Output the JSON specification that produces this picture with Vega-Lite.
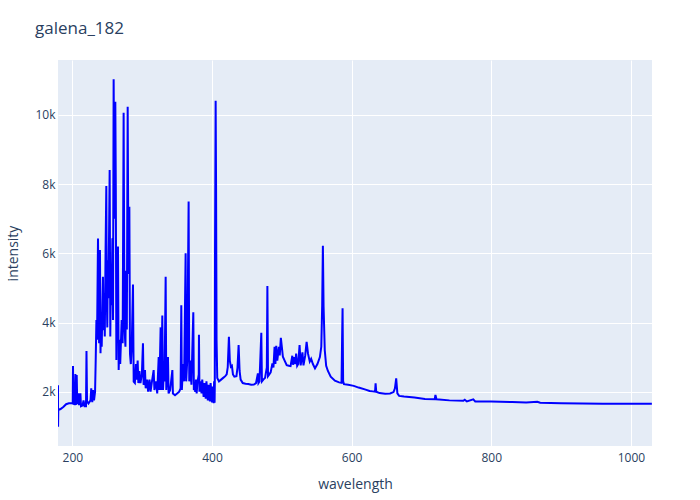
{
  "$schema": "https://vega.github.io/schema/vega-lite/v6.json",
  "width": 594,
  "height": 386,
  "autosize": {"type": "none"},
  "padding": {"left": 58, "top": 60, "right": 48, "bottom": 54},
  "background": "white",
  "title": {"text": "galena_182", "anchor": "start", "frame": "group", "dx": -23, "offset": 22, "fontSize": 17, "font": "Open Sans", "color": "#2a3f5f", "fontWeight": "normal"},
  "config": {
    "view": {"fill": "#E5ECF6", "stroke": null},
    "axis": {"domain": false, "ticks": false, "tickSize": 0, "gridColor": "white", "gridWidth": 1, "labelFont": "Open Sans", "labelFontSize": 12, "labelColor": "#2a3f5f", "titleFont": "Open Sans", "titleFontSize": 14, "titleColor": "#2a3f5f", "titleFontWeight": "normal"}
  },
  "data": {"values": [
    {"w":179.4,"v":2190,"s":1},{"w":179.5,"v":989,"s":1},{"w":179.8,"v":1471,"s":1},{"w":183,"v":1500,"s":1},{"w":187,"v":1560,"s":1},{"w":191,"v":1640,"s":1},{"w":195,"v":1665,"s":1},{"w":199,"v":1665,"s":1},{"w":200.5,"v":1660,"s":1},{"w":200.9,"v":2743,"s":1},{"w":201.3,"v":1650,"s":1},{"w":203,"v":1640,"s":1},{"w":204.3,"v":2511,"s":1},{"w":205,"v":1620,"s":1},{"w":206.2,"v":2480,"s":1},{"w":207,"v":1640,"s":1},{"w":208.5,"v":1954,"s":1},{"w":209.5,"v":1610,"s":1},{"w":211.5,"v":1954,"s":1},{"w":212.3,"v":1580,"s":1},{"w":214.5,"v":1600,"s":1},{"w":216,"v":1750,"s":1},{"w":217.5,"v":1580,"s":1},{"w":219.5,"v":1580,"s":1},{"w":220.2,"v":3176,"s":1},{"w":221,"v":1720,"s":1},{"w":223,"v":1660,"s":1},{"w":226,"v":1750,"s":1},{"w":227,"v":2100,"s":1},{"w":228.5,"v":1700,"s":1},{"w":229.5,"v":2050,"s":1},{"w":231,"v":1750,"s":1},{"w":232.5,"v":2000,"s":1},{"w":233.4,"v":2900,"s":1},{"w":234.4,"v":4070,"s":1},{"w":235.3,"v":3500,"s":1},{"w":236.7,"v":6433,"s":1},{"w":237.5,"v":4300,"s":1},{"w":238.3,"v":3400,"s":1},{"w":239.5,"v":6095,"s":1},{"w":240.3,"v":3110,"s":1},{"w":241.2,"v":4300,"s":1},{"w":242,"v":3300,"s":1},{"w":243.8,"v":5324,"s":1},{"w":244.6,"v":3780,"s":1},{"w":245.5,"v":4844,"s":1},{"w":246.4,"v":3600,"s":1},{"w":247.5,"v":6000,"s":1},{"w":248.6,"v":7945,"s":1},{"w":249.2,"v":4844,"s":1},{"w":250,"v":3860,"s":1},{"w":250.8,"v":5800,"s":1},{"w":251.5,"v":4700,"s":1},{"w":252.5,"v":6500,"s":1},{"w":253.4,"v":8407,"s":1},{"w":254.3,"v":3600,"s":1},{"w":255.2,"v":5500,"s":1},{"w":256,"v":4500,"s":1},{"w":257.3,"v":6433,"s":1},{"w":258.2,"v":4072,"s":1},{"w":259.1,"v":11030,"s":1},{"w":260.2,"v":7000,"s":1},{"w":261.5,"v":10381,"s":1},{"w":262.2,"v":7900,"s":1},{"w":263,"v":2916,"s":1},{"w":263.8,"v":5000,"s":1},{"w":265.3,"v":6200,"s":1},{"w":266.3,"v":2627,"s":1},{"w":267.5,"v":3500,"s":1},{"w":268.5,"v":2800,"s":1},{"w":270.6,"v":4070,"s":1},{"w":272,"v":3400,"s":1},{"w":273.4,"v":10063,"s":1},{"w":274.6,"v":3880,"s":1},{"w":276,"v":3300,"s":1},{"w":277,"v":5500,"s":1},{"w":278,"v":3800,"s":1},{"w":279.2,"v":10237,"s":1},{"w":280.3,"v":5400,"s":1},{"w":281.6,"v":7347,"s":1},{"w":282.5,"v":3100,"s":1},{"w":283.7,"v":2800,"s":1},{"w":285,"v":3300,"s":1},{"w":286.8,"v":5100,"s":1},{"w":287.8,"v":2290,"s":1},{"w":289.5,"v":2250,"s":1},{"w":291,"v":2800,"s":1},{"w":292,"v":2350,"s":1},{"w":293.5,"v":2900,"s":1},{"w":294.5,"v":2250,"s":1},{"w":296,"v":2600,"s":1},{"w":297.5,"v":2250,"s":1},{"w":299.5,"v":2500,"s":1},{"w":301.1,"v":3400,"s":1},{"w":302,"v":2200,"s":1},{"w":303.5,"v":2290,"s":1},{"w":304,"v":2627,"s":1},{"w":305,"v":2100,"s":1},{"w":307,"v":2350,"s":1},{"w":308.5,"v":2000,"s":1},{"w":310.5,"v":2350,"s":1},{"w":312,"v":2000,"s":1},{"w":314,"v":2300,"s":1},{"w":316.4,"v":2627,"s":1},{"w":317.5,"v":2050,"s":1},{"w":320,"v":2300,"s":1},{"w":321.5,"v":1950,"s":1},{"w":323.6,"v":3000,"s":1},{"w":324.5,"v":2050,"s":1},{"w":326.4,"v":3860,"s":1},{"w":327.3,"v":2050,"s":1},{"w":328.8,"v":4200,"s":1},{"w":329.8,"v":2050,"s":1},{"w":331,"v":2600,"s":1},{"w":332,"v":2300,"s":1},{"w":333.6,"v":5324,"s":1},{"w":334.5,"v":2050,"s":1},{"w":336.9,"v":3000,"s":1},{"w":337.8,"v":1950,"s":1},{"w":340,"v":2050,"s":1},{"w":343.2,"v":2627,"s":1},{"w":344,"v":1950,"s":1},{"w":347,"v":1900,"s":1},{"w":350,"v":1950,"s":1},{"w":353,"v":2000,"s":1},{"w":355,"v":2100,"s":1},{"w":356,"v":4500,"s":1},{"w":356.8,"v":2050,"s":1},{"w":358.5,"v":2800,"s":1},{"w":360,"v":2300,"s":1},{"w":362.2,"v":6000,"s":1},{"w":363,"v":2300,"s":1},{"w":364.5,"v":2900,"s":1},{"w":366.5,"v":7500,"s":1},{"w":367.4,"v":2300,"s":1},{"w":369,"v":2900,"s":1},{"w":370.5,"v":2200,"s":1},{"w":373.2,"v":4300,"s":1},{"w":374,"v":2050,"s":1},{"w":376,"v":2000,"s":1},{"w":378,"v":1950,"s":1},{"w":381.3,"v":3650,"s":1},{"w":382,"v":2000,"s":1},{"w":385,"v":1950,"s":1},{"w":388,"v":1850,"s":1},{"w":391,"v":1800,"s":1},{"w":394,"v":1750,"s":1},{"w":397,"v":1720,"s":1},{"w":400,"v":1690,"s":1},{"w":402.3,"v":1665,"s":1},{"w":403.7,"v":1680,"s":1},{"w":404,"v":2200,"s":1},
    {"w":375.1,"v":2100,"s":2},{"w":377,"v":2350,"s":2},{"w":379,"v":2250,"s":2},{"w":381,"v":2500,"s":2},{"w":383,"v":2300,"s":2},{"w":386,"v":2350,"s":2},{"w":389,"v":2250,"s":2},{"w":392,"v":2300,"s":2},{"w":395,"v":2200,"s":2},{"w":398,"v":2250,"s":2},{"w":401,"v":2150,"s":2},{"w":403,"v":2300,"s":2},{"w":404.3,"v":6000,"s":2},{"w":405.2,"v":10410,"s":2},{"w":405.8,"v":8000,"s":2},{"w":406.5,"v":3500,"s":2},{"w":407.5,"v":2400,"s":2},{"w":410,"v":2300,"s":2},{"w":413,"v":2350,"s":2},{"w":416,"v":2400,"s":2},{"w":419,"v":2450,"s":2},{"w":421,"v":2500,"s":2},{"w":422.5,"v":2700,"s":2},{"w":424.2,"v":3590,"s":2},{"w":425.5,"v":2900,"s":2},{"w":427,"v":2722,"s":2},{"w":428.5,"v":2750,"s":2},{"w":430,"v":2500,"s":2},{"w":432,"v":2434,"s":2},{"w":435,"v":2450,"s":2},{"w":436.5,"v":2700,"s":2},{"w":438.1,"v":3350,"s":2},{"w":439.5,"v":2600,"s":2},{"w":441,"v":2350,"s":2},{"w":444,"v":2250,"s":2},{"w":448,"v":2230,"s":2},{"w":452,"v":2222,"s":2},{"w":456,"v":2200,"s":2},{"w":460,"v":2210,"s":2},{"w":463,"v":2250,"s":2},{"w":465.7,"v":2530,"s":2},{"w":466.5,"v":2250,"s":2},{"w":468,"v":2300,"s":2},{"w":470.6,"v":3705,"s":2},{"w":471.5,"v":2300,"s":2},{"w":473.5,"v":2350,"s":2},{"w":476,"v":2400,"s":2},{"w":478.5,"v":2700,"s":2},{"w":479.3,"v":5055,"s":2},{"w":480.2,"v":2450,"s":2},{"w":482,"v":2500,"s":2},{"w":484,"v":2560,"s":2},{"w":486.5,"v":2820,"s":2},{"w":488,"v":2700,"s":2},{"w":489.6,"v":3300,"s":2},{"w":490.8,"v":2800,"s":2},{"w":492,"v":3330,"s":2},{"w":493.5,"v":2900,"s":2},{"w":495.8,"v":3300,"s":2},{"w":497,"v":3050,"s":2},{"w":498.6,"v":3560,"s":2},{"w":500,"v":3300,"s":2},{"w":501.5,"v":3010,"s":2},{"w":504,"v":2900,"s":2},{"w":507,"v":2770,"s":2},{"w":510,"v":2750,"s":2},{"w":512.5,"v":2740,"s":2},{"w":515,"v":3040,"s":2},{"w":516,"v":2780,"s":2},{"w":517.5,"v":3000,"s":2},{"w":519,"v":2800,"s":2},{"w":520.5,"v":3100,"s":2},{"w":522,"v":2750,"s":2},{"w":523.5,"v":2800,"s":2},{"w":525.4,"v":3350,"s":2},{"w":527,"v":2760,"s":2},{"w":529.5,"v":3140,"s":2},{"w":531,"v":2760,"s":2},{"w":533.5,"v":3050,"s":2},{"w":535.5,"v":3445,"s":2},{"w":537.5,"v":3100,"s":2},{"w":540,"v":2870,"s":2},{"w":542,"v":2950,"s":2},{"w":544.5,"v":2800,"s":2},{"w":547.5,"v":2676,"s":2},{"w":551,"v":2800,"s":2},{"w":554.5,"v":3000,"s":2},{"w":556.5,"v":3300,"s":2},{"w":557.8,"v":4500,"s":2},{"w":558.8,"v":6220,"s":2},{"w":559.8,"v":4457,"s":2},{"w":561.5,"v":3200,"s":2},{"w":563.5,"v":2750,"s":2},{"w":566,"v":2600,"s":2},{"w":570,"v":2434,"s":2},{"w":576,"v":2320,"s":2},{"w":582,"v":2270,"s":2},{"w":585.5,"v":2260,"s":2},{"w":586.3,"v":3500,"s":2},{"w":587,"v":4410,"s":2},{"w":587.8,"v":2300,"s":2},{"w":589,"v":2220,"s":2},{"w":595,"v":2200,"s":2},{"w":603,"v":2170,"s":2},{"w":610,"v":2120,"s":2},{"w":620,"v":2060,"s":2},{"w":625.7,"v":2020,"s":2},{"w":630,"v":2010,"s":2},{"w":633.5,"v":2000,"s":2},{"w":634.3,"v":2243,"s":2},{"w":635.2,"v":2000,"s":2},{"w":640,"v":1960,"s":2},{"w":648,"v":1943,"s":2},{"w":655,"v":1950,"s":2},{"w":660,"v":1990,"s":2},{"w":662,"v":2098,"s":2},{"w":663.8,"v":2387,"s":2},{"w":665.5,"v":1950,"s":2},{"w":668,"v":1880,"s":2},{"w":675,"v":1860,"s":2},{"w":690,"v":1830,"s":2},{"w":705,"v":1790,"s":2},{"w":719,"v":1780,"s":2},{"w":720,"v":1905,"s":2},{"w":721.5,"v":1780,"s":2},{"w":740,"v":1750,"s":2},{"w":760,"v":1740,"s":2},{"w":762,"v":1770,"s":2},{"w":765,"v":1720,"s":2},{"w":774.2,"v":1780,"s":2},{"w":777,"v":1720,"s":2},{"w":800,"v":1718,"s":2},{"w":830,"v":1700,"s":2},{"w":850,"v":1690,"s":2},{"w":866,"v":1710,"s":2},{"w":870,"v":1680,"s":2},{"w":900,"v":1670,"s":2},{"w":930,"v":1660,"s":2},{"w":960,"v":1655,"s":2},{"w":990,"v":1655,"s":2},{"w":1010,"v":1655,"s":2},{"w":1030,"v":1655,"s":2}
  ]},
  "mark": {"type": "line", "color": "#0000ff", "strokeWidth": 2, "clip": true},
  "encoding": {
    "x": {"field": "w", "type": "quantitative", "scale": {"domain": [179.4, 1030.2], "nice": false, "zero": false}, "axis": {"values": [200, 400, 600, 800, 1000], "format": "d", "title": "wavelength", "labelPadding": 6, "titlePadding": 14}},
    "y": {"field": "v", "type": "quantitative", "scale": {"domain": [431, 11590], "nice": false, "zero": false}, "axis": {"values": [2000, 4000, 6000, 8000, 10000], "format": "~s", "title": "intensity", "labelPadding": 3, "titlePadding": 14}},
    "order": [{"field": "s"}, {"field": "w"}]
  }
}
